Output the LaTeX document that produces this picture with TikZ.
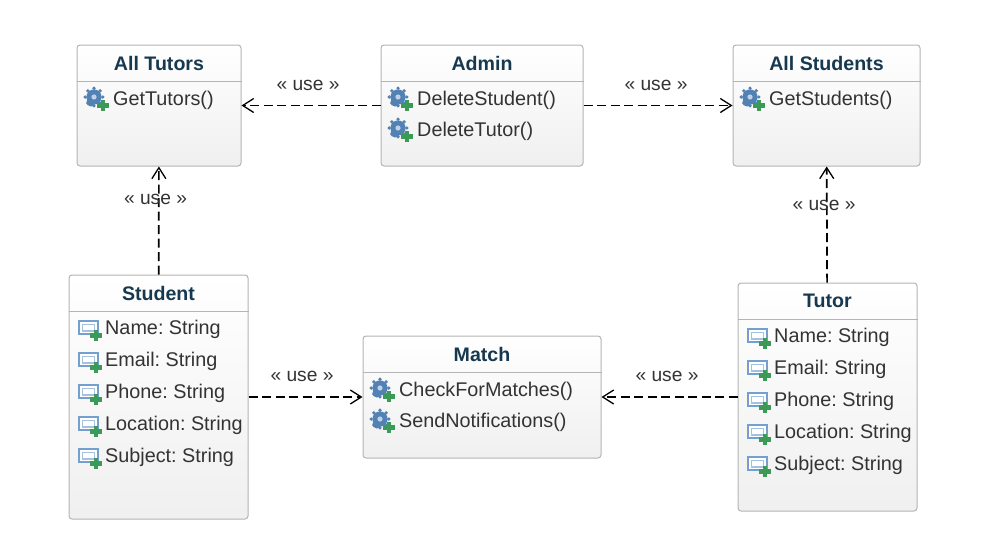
\documentclass[tikz,border=0pt]{standalone}
\usepackage{fontspec}
\setmainfont{Liberation Sans}
\usetikzlibrary{calc,arrows.meta,shadings}
\definecolor{boxline}{HTML}{B4B4B4}
\definecolor{titleblue}{HTML}{17394F}
\definecolor{membertext}{HTML}{333333}
\definecolor{iconblue}{HTML}{5B8FC7}
\definecolor{icongreen}{HTML}{3C9A58}
\tikzset{
  classbox/.style={draw=boxline, line width=1pt, rounded corners=3pt, top color=white,
    bottom color=black!6, anchor=north west, inner sep=0pt},
  classtitle/.style={font=\bfseries\fontsize{19.6}{22}\selectfont, text=titleblue},
  member/.style={font=\frenchspacing\fontsize{19.8}{22}\selectfont, text=membertext, anchor=west, inner sep=0pt},
  uselabel/.style={font=\fontsize{19.2}{22}\selectfont, text=membertext, inner sep=0pt},
  usedep/.style={draw=black, line width=1.7pt, dash pattern=on 9pt off 4.5pt,
    -{Straight Barb[length=11pt,width=14pt,line width=1.3pt]}},
  pics/plusmark/.style={code={
    \fill[icongreen] (-2.3,-5.6) rectangle (2.3,5.6);
    \fill[icongreen] (-5.6,-2.3) rectangle (5.6,2.3);
  }},
  pics/opicon/.style={code={
    \fill[iconblue!90!black] (-2,-2) circle (7.6);
    \fill[iconblue!90!black] (-5,3) circle (4.5);
    \foreach \a in {0,45,...,315}
      \fill[iconblue!90!black] (-2,-2) ++(\a:8.8) circle (1.8);
    \fill[white!60!iconblue] (-2,-2) circle (2.6);
    \pic at (7,6.5) {plusmark};
  }},
  pics/attricon/.style={code={
    \draw[iconblue!85, line width=1.5pt, fill=white] (-10,-8) rectangle (9,5);
    \draw[iconblue!55, line width=1.5pt] (-6.5,-4.5) rectangle (5.5,2);
    \pic at (7,6.5) {plusmark};
  }},
}
\begin{document}
\begin{tikzpicture}[x=1pt, y=-1pt]
  \useasboundingbox (0,0) rectangle (983,557);
  % classes
  \node[classbox, minimum width=164pt, minimum height=121pt] (alltutors) at (76.5,44.5) {};
  \node[classbox, minimum width=202pt, minimum height=121pt] (admin) at (380.5,44.5) {};
  \node[classbox, minimum width=187pt, minimum height=121pt] (allstudents) at (732.5,44.5) {};
  \node[classbox, minimum width=179pt, minimum height=244pt] (student) at (68.5,274.5) {};
  \node[classbox, minimum width=238pt, minimum height=122pt] (match) at (362.5,335.5) {};
  \node[classbox, minimum width=179pt, minimum height=228pt] (tutor) at (737.5,282.5) {};
  % header lines
  \draw[boxline, line width=1pt] (alltutors.west |- 0,81) -- (alltutors.east |- 0,81);
  \draw[boxline, line width=1pt] (admin.west |- 0,81) -- (admin.east |- 0,81);
  \draw[boxline, line width=1pt] (allstudents.west |- 0,81) -- (allstudents.east |- 0,81);
  \draw[boxline, line width=1pt] (student.west |- 0,311) -- (student.east |- 0,311);
  \draw[boxline, line width=1pt] (match.west |- 0,372) -- (match.east |- 0,372);
  \draw[boxline, line width=1pt] (tutor.west |- 0,319) -- (tutor.east |- 0,319);
  % titles
  \node[classtitle] (alltutorstitle) at (alltutors.north |- 0,63) {All Tutors};
  \node[classtitle] (admintitle) at (admin.north |- 0,63) {Admin};
  \node[classtitle] (allstudentstitle) at (allstudents.north |- 0,63) {All Students};
  \node[classtitle] (studenttitle) at (student.north |- 0,293) {Student};
  \node[classtitle] (matchtitle) at (match.north |- 0,354) {Match};
  \node[classtitle] (tutortitle) at (tutor.north |- 0,301) {Tutor};
  % operations
  \foreach \nm/\x/\y/\txt in {tut/113/100/GetTutors(), dels/417/100/DeleteStudent(),
      delt/417/131/DeleteTutor(), gets/769/100/GetStudents(),
      check/399/391/CheckForMatches(), send/399/422/SendNotifications()} {
    \node[member] (\nm) at (\x,\y) {\txt};
    \pic at ($(\nm.west)+(-17,-1)$) {opicon};
  }
  % attributes
  \foreach \top/\x/\pre in {329/105/s, 337/774/t} {
    \foreach \i/\txt in {0/Name: String, 1/Email: String, 2/Phone: String,
        3/Location: String, 4/Subject: String} {
      \node[member] (\pre\i) at (\x,\top+32*\i) {\txt};
      \pic at ($(\pre\i.west)+(-16,0)$) {attricon};
    }
  }
  % dependencies
  \draw[usedep] (admin) -- (alltutors);
  \draw[usedep] (admin) -- (allstudents);
  \draw[usedep] (student) -- (alltutors);
  \draw[usedep] (tutor) -- (allstudents);
  \draw[usedep] (student) -- (match);
  \draw[usedep] (tutor) -- (match);
  % labels
  \node[uselabel] (use1) at (308,85) {« use »};
  \node[uselabel] (use2) at (656,85) {« use »};
  \node[uselabel] (use3) at (155.5,199) {« use »};
  \node[uselabel] (use4) at (824,205) {« use »};
  \node[uselabel] (use5) at (302,376) {« use »};
  \node[uselabel] (use6) at (667,376) {« use »};
\end{tikzpicture}
\end{document}
